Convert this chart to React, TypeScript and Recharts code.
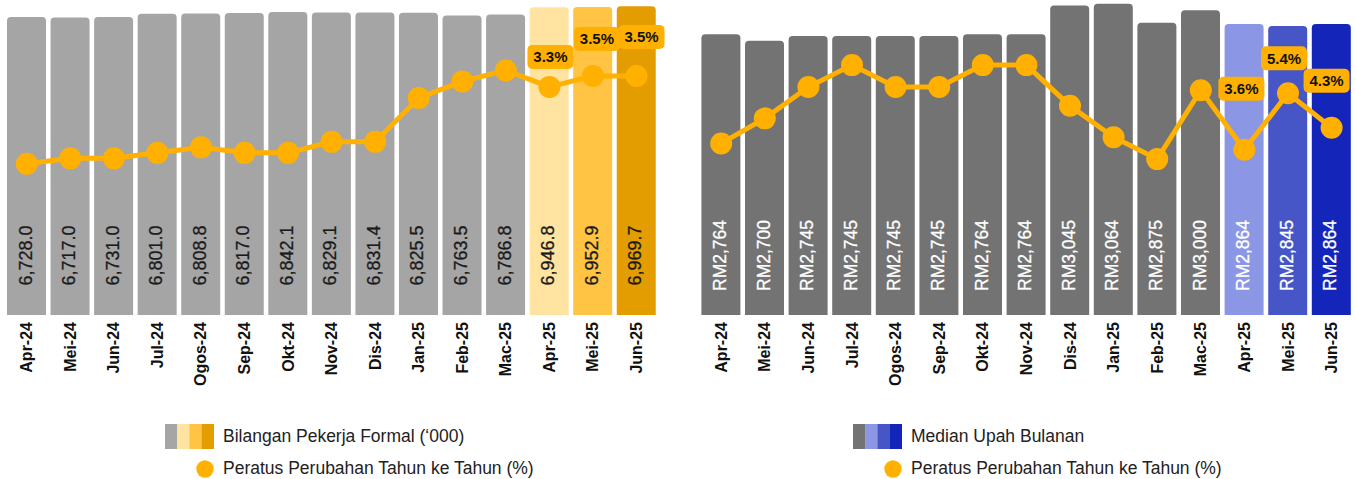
import { Bar, Cell, ComposedChart, LabelList, Line, XAxis, YAxis } from "recharts";

const months = [
  "Apr-24", "Mei-24", "Jun-24", "Jul-24", "Ogos-24", "Sep-24", "Okt-24", "Nov-24",
  "Dis-24", "Jan-25", "Feb-25", "Mac-25", "Apr-25", "Mei-25", "Jun-25",
];

// Bilangan pekerja formal ('000)
const workers = [
  6728.0, 6717.0, 6731.0, 6801.0, 6808.8, 6817.0, 6842.1, 6829.1,
  6831.4, 6825.5, 6763.5, 6786.8, 6946.8, 6952.9, 6969.7,
];
const workersYoY = [1.9, 2.0, 2.0, 2.1, 2.2, 2.1, 2.1, 2.3, 2.3, 3.1, 3.4, 3.6, 3.3, 3.5, 3.5];

// Median upah bulanan (RM)
const wages = [2764, 2700, 2745, 2745, 2745, 2745, 2764, 2764, 3045, 3064, 2875, 3000, 2864, 2845, 2864];
const wagesYoY = [3.8, 4.6, 5.6, 6.3, 5.6, 5.6, 6.3, 6.3, 5.0, 4.0, 3.3, 5.5, 3.6, 5.4, 4.3];

const workerColors = ["#A5A5A5", "#FFE3A1", "#FFC444", "#E39D00"];
const wageColors = ["#737373", "#8B96E5", "#4756C6", "#1426BA"];
const LINE = "#FFB000";
const FONT = "'Liberation Sans', Arial, sans-serif";

// the last three months are highlighted and labelled
const HIGHLIGHT_FROM = 12;

// hand placement of the % callouts (dx, lift above point)
const workerCallouts: [number, number][] = [[1, 30], [4, 37], [5, 39]];
const wageCallouts: [number, number][] = [[-3, 61], [-4, 35], [-5, 47]];

const workerData = months.map((m, i) => ({ month: m, value: workers[i], yoy: workersYoY[i] }));
const wageData = months.map((m, i) => ({ month: m, value: wages[i], yoy: wagesYoY[i] }));

function barColor(palette: string[], i: number) {
  return i < HIGHLIGHT_FROM ? palette[0] : palette[i - HIGHLIGHT_FROM + 1];
}

function MonthTick(props: any) {
  const { x, payload } = props;
  return (
    <text
      transform={`translate(${x},322) rotate(-90)`}
      textAnchor="end"
      dominantBaseline="central"
      fontFamily={FONT}
      fontWeight={700}
      fontSize={16}
      fill="#111"
    >
      {payload.value}
    </text>
  );
}

function valueLabel(color: string, size: number, fmt: (v: number) => string) {
  return (props: any) => {
    const { x, width, value } = props;
    const cx = Number(x) + Number(width) / 2 - 1;
    return (
      <text
        transform={`translate(${cx},255.5) rotate(-90)`}
        textAnchor="middle"
        dominantBaseline="central"
        fontFamily={FONT}
        fontSize={size}
        fill={color}
        stroke={color}
        strokeWidth={0.3}
      >
        {fmt(Number(value))}
      </text>
    );
  };
}

function callout(offsets: [number, number][]) {
  return (props: any) => {
    const { x, y, value, index } = props;
    if (index == null || index < HIGHLIGHT_FROM) return null;
    const [dx, lift] = offsets[index - HIGHLIGHT_FROM];
    const cx = Number(x) + dx;
    const cy = Number(y) - lift;
    return (
      <g>
        <rect x={cx - 23} y={cy - 12} width={46} height={24} rx={5} fill={LINE} />
        <text
          x={cx}
          y={cy}
          textAnchor="middle"
          dominantBaseline="central"
          fontFamily={FONT}
          fontWeight={700}
          fontSize={15}
          fill="#111"
        >
          {`${Number(value).toFixed(1)}%`}
        </text>
      </g>
    );
  };
}

interface PanelProps {
  data: { month: string; value: number; yoy: number }[];
  palette: string[];
  barDomain: [number, number];
  lineDomain: [number, number];
  margin: { top: number; right: number; bottom: number; left: number };
  width: number;
  labelColor: string;
  labelSize: number;
  fmt: (v: number) => string;
  offsets: [number, number][];
}

function Panel({ data, palette, barDomain, lineDomain, margin, width, labelColor, labelSize, fmt, offsets }: PanelProps) {
  return (
    <ComposedChart width={width} height={400} data={data} margin={margin}>
      <XAxis
        dataKey="month"
        height={85}
        axisLine={false}
        tickLine={false}
        interval={0}
        tick={<MonthTick />}
      />
      <YAxis yAxisId="bar" hide domain={barDomain} />
      <YAxis yAxisId="line" hide domain={lineDomain} allowDataOverflow />
      <Bar yAxisId="bar" dataKey="value" barSize={39} radius={[4, 4, 0, 0]} isAnimationActive={false}>
        {data.map((_, i) => (
          <Cell key={i} fill={barColor(palette, i)} />
        ))}
        <LabelList dataKey="value" content={valueLabel(labelColor, labelSize, fmt)} />
      </Bar>
      <Line
        yAxisId="line"
        dataKey="yoy"
        stroke={LINE}
        strokeWidth={5}
        dot={{ r: 11, fill: LINE, stroke: "none" }}
        activeDot={false}
        isAnimationActive={false}
      >
        <LabelList dataKey="yoy" content={callout(offsets)} />
      </Line>
    </ComposedChart>
  );
}

function LegendBlock({ left, palette, title, dotX }: { left: number; palette: string[]; title: string; dotX: number }) {
  return (
    <svg width={700} height={479} style={{ position: "absolute", left: 0, top: 0, overflow: "visible" }}>
      {palette.map((c, i) => (
        <rect key={c} x={left + i * 12.2} y={424} width={12.4} height={25} fill={c} />
      ))}
      <text x={left + 58} y={441.5} fontFamily={FONT} fontSize={17.5} fill="#222">
        {title}
      </text>
      <circle cx={dotX} cy={469} r={8.7} fill={LINE} />
      <text x={left + 58} y={473.5} fontFamily={FONT} fontSize={17.5} fill="#222">
        Peratus Perubahan Tahun ke Tahun (%)
      </text>
    </svg>
  );
}

export default function App() {
  return (
    <div style={{ position: "fixed", left: 0, top: 0, width: 1356, height: 479, background: "#fff" }}>
      <div style={{ position: "absolute", left: 0, top: 0 }}>
        <Panel
          data={workerData}
          palette={workerColors}
          barDomain={[0, 7000]}
          lineDomain={[-0.85, 4.79]}
          margin={{ top: 5, right: 21.7, bottom: 0, left: 5 }}
          width={680}
          labelColor="#1a1a1a"
          labelSize={18}
          fmt={(v) => v.toLocaleString("en-US", { minimumFractionDigits: 1, maximumFractionDigits: 1 })}
          offsets={workerCallouts}
        />
      </div>
      <div style={{ position: "absolute", left: 680, top: 0 }}>
        <Panel
          data={wageData}
          palette={wageColors}
          barDomain={[0, 3100]}
          lineDomain={[-1.676, 8.378]}
          margin={{ top: 0, right: 2.6, bottom: 0, left: 19.4 }}
          width={676}
          labelColor="#ffffff"
          labelSize={17.5}
          fmt={(v) => `RM${v.toLocaleString("en-US")}`}
          offsets={wageCallouts}
        />
      </div>
      <div style={{ position: "absolute", left: 0, top: 0 }}>
        <LegendBlock left={165} palette={workerColors} title="Bilangan Pekerja Formal (‘000)" dotX={205} />
      </div>
      <div style={{ position: "absolute", left: 0, top: 0 }}>
        <LegendBlock left={853} palette={wageColors} title="Median Upah Bulanan" dotX={893} />
      </div>
    </div>
  );
}
